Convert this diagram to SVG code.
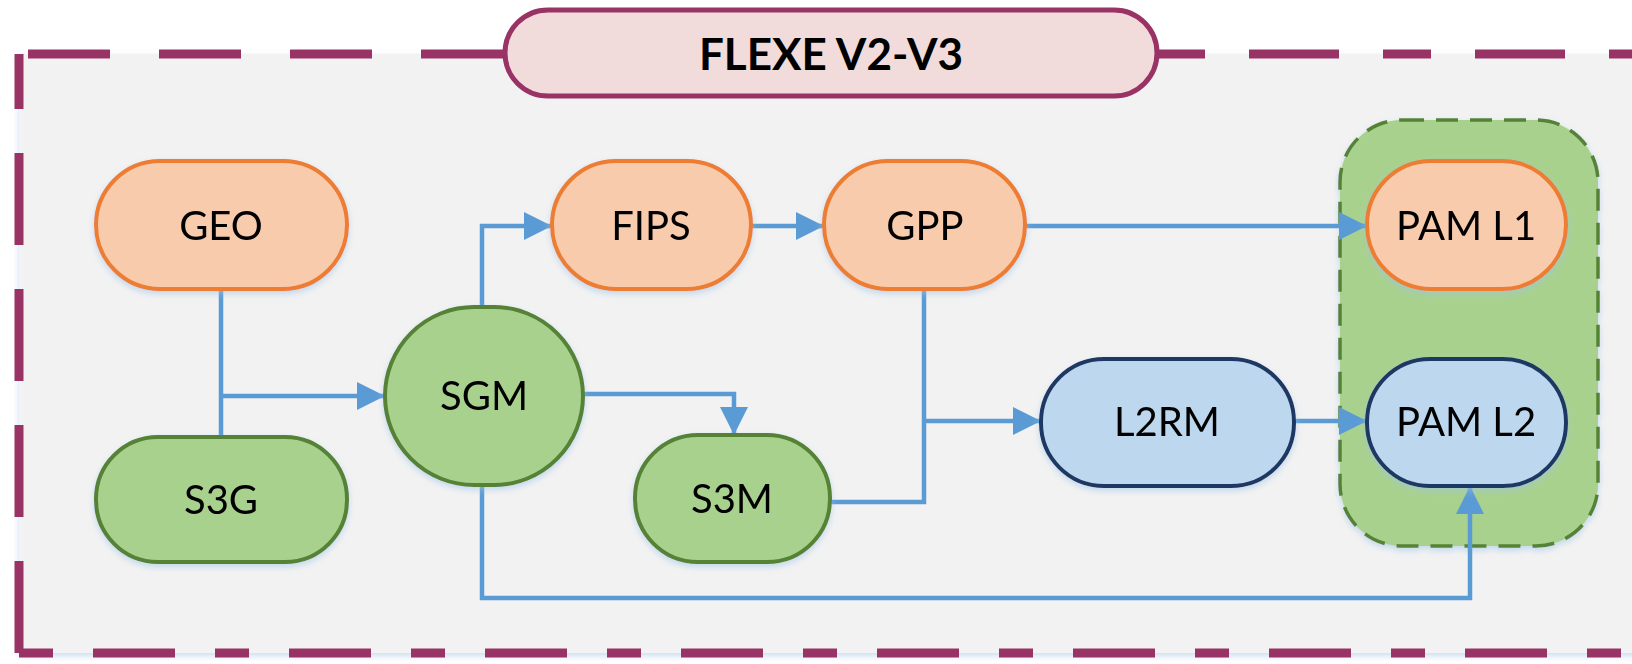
<svg xmlns="http://www.w3.org/2000/svg" width="1632" height="664" viewBox="0 0 1632 664">
  <defs>
    <style>
      .border { fill: none; stroke: #993366; stroke-width: 9; }
      .node-text { font-family: Lato, "Liberation Sans", sans-serif; font-size: 40px; fill: #000; text-anchor: middle; }
      .title-text { font-family: Lato, "Liberation Sans", sans-serif; font-size: 44px; font-weight: bold; fill: #000; text-anchor: middle; }
      .orange { fill: #f8cbad; stroke: #ed7d31; stroke-width: 4; }
      .green { fill: #a9d18e; stroke: #548235; stroke-width: 4; }
      .blue { fill: #bdd7ee; stroke: #1f3864; stroke-width: 4; }
      .conn { fill: none; stroke: #5b9bd5; stroke-width: 4.5; }
    </style>
    <filter id="soft" x="-20%" y="-20%" width="140%" height="150%">
      <feDropShadow dx="0" dy="3" stdDeviation="3" flood-color="#9dc3e6" flood-opacity="0.55"/>
    </filter>
    <marker id="arrow" markerUnits="userSpaceOnUse" markerWidth="30" markerHeight="30" refX="28" refY="14" orient="auto">
      <path d="M0,0 L28,14 L0,28 Z" fill="#5b9bd5"/>
    </marker>
  </defs>

  <!-- frame background and dashed border -->
  <g id="frame">
    <rect x="19" y="54" width="1620" height="599" fill="#f2f2f2" filter="url(#soft)"/>
    <path class="border" d="M19,653 V54" stroke-dasharray="92 44" stroke-dashoffset="0"/>
    <path class="border" d="M19,54 H505" stroke-dasharray="0 9 82 40"/>
    <path class="border" d="M1157,54 H1640" stroke-dasharray="48 44 90 44"/>
    <path class="border" d="M19,653 H1640" stroke-dasharray="34 40 82 40"/>
  </g>

  <!-- title -->
  <g id="title">
    <rect x="505" y="10" width="652" height="86" rx="43" fill="#f2dcdb" stroke="#993366" stroke-width="5"/>
    <text class="title-text" x="831" y="70">FLEXE V2-V3</text>
  </g>

  <!-- grouping container for PAM modules -->
  <g id="pam-group">
    <rect x="1340" y="120" width="258" height="426" rx="62" fill="#a9d18e" stroke="#548235" stroke-width="3.5" stroke-dasharray="22 12" filter="url(#soft)"/>
  </g>

  <!-- connectors -->
  <g id="connectors">
    <path class="conn" d="M221,289 V437"/>
    <path class="conn" d="M221,396 H385" marker-end="url(#arrow)"/>
    <path class="conn" d="M482,307 V226 H552" marker-end="url(#arrow)"/>
    <path class="conn" d="M751,226 H824" marker-end="url(#arrow)"/>
    <path class="conn" d="M1025,226 H1367" marker-end="url(#arrow)"/>
    <path class="conn" d="M583,394 H734 V435" marker-end="url(#arrow)"/>
    <path class="conn" d="M830,502 H924 V289"/>
    <path class="conn" d="M924,421 H1041" marker-end="url(#arrow)"/>
    <path class="conn" d="M1294,421 H1367" marker-end="url(#arrow)"/>
    <path class="conn" d="M482,485 V598 H1470 V486" marker-end="url(#arrow)"/>
  </g>

  <!-- nodes -->
  <g id="geo" filter="url(#soft)">
    <rect class="orange" x="96" y="161" width="251" height="128" rx="64"/>
    <text class="node-text" x="221" y="240">GEO</text>
  </g>
  <g id="s3g" filter="url(#soft)">
    <rect class="green" x="96" y="437" width="251" height="125" rx="62"/>
    <text class="node-text" x="221" y="514">S3G</text>
  </g>
  <g id="sgm" filter="url(#soft)">
    <rect class="green" x="385" y="307" width="198" height="178" rx="89"/>
    <text class="node-text" x="484" y="410">SGM</text>
  </g>
  <g id="fips" filter="url(#soft)">
    <rect class="orange" x="552" y="161" width="199" height="128" rx="64"/>
    <text class="node-text" x="651" y="240">FIPS</text>
  </g>
  <g id="gpp" filter="url(#soft)">
    <rect class="orange" x="824" y="161" width="201" height="128" rx="64"/>
    <text class="node-text" x="925" y="240">GPP</text>
  </g>
  <g id="s3m" filter="url(#soft)">
    <rect class="green" x="635" y="435" width="195" height="127" rx="63"/>
    <text class="node-text" x="732" y="513">S3M</text>
  </g>
  <g id="l2rm" filter="url(#soft)">
    <rect class="blue" x="1041" y="359" width="253" height="127" rx="63"/>
    <text class="node-text" x="1167" y="436">L2RM</text>
  </g>
  <g id="pam-l1" filter="url(#soft)">
    <rect class="orange" x="1367" y="161" width="199" height="128" rx="64"/>
    <text class="node-text" x="1466" y="240">PAM L1</text>
  </g>
  <g id="pam-l2" filter="url(#soft)">
    <rect class="blue" x="1367" y="359" width="199" height="127" rx="63"/>
    <text class="node-text" x="1466" y="436">PAM L2</text>
  </g>
</svg>
